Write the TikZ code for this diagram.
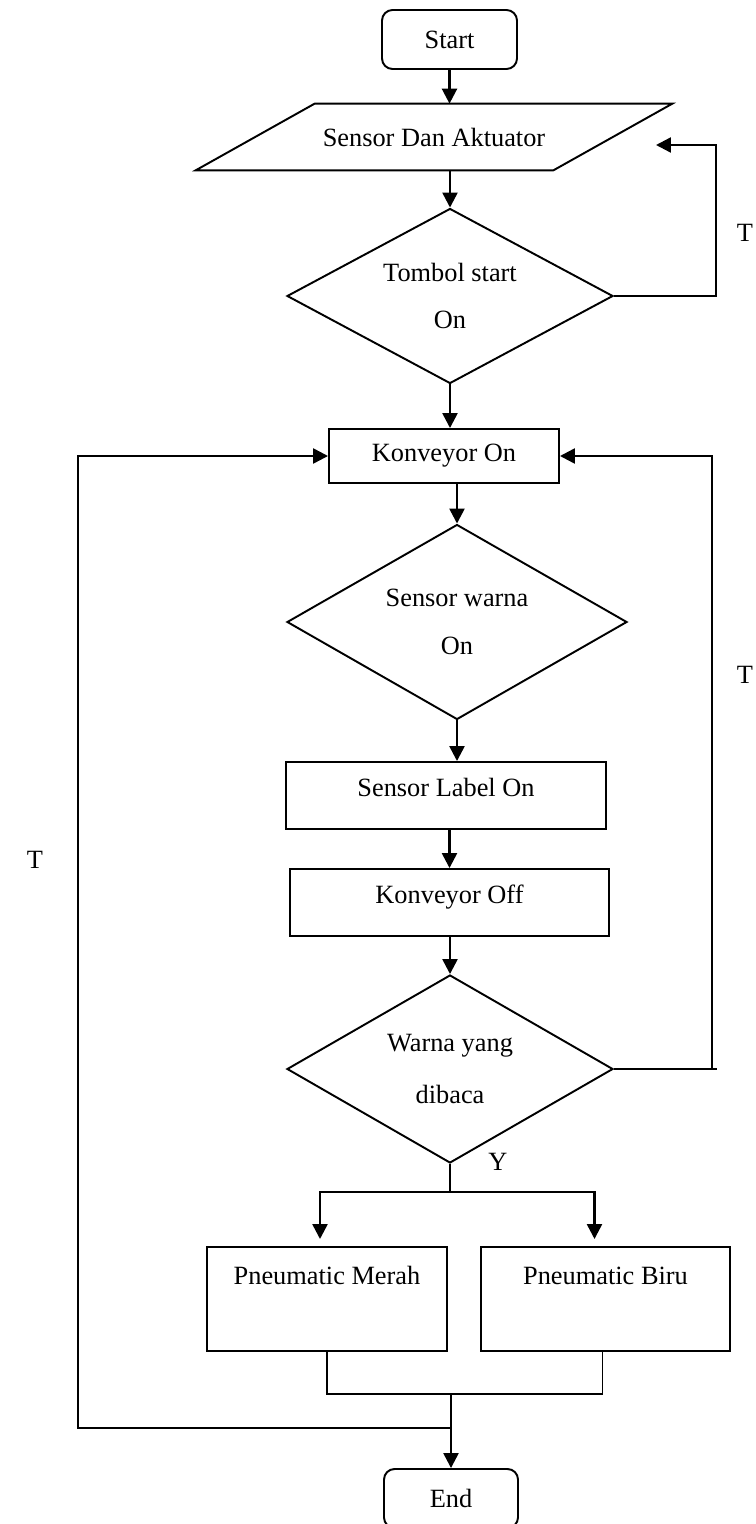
\documentclass[tikz,border=0pt]{standalone}
\usepackage{fontspec}
\setmainfont{Liberation Serif}
\usetikzlibrary{shapes.geometric,arrows.meta}

\tikzstyle{base}=[draw,line width=1.1pt,font=\fontsize{15}{18}\selectfont,inner sep=0pt]
\tikzstyle{term}=[base,rectangle,rounded corners=6pt]
\tikzstyle{proc}=[base,rectangle]
\tikzstyle{io}=[rectangle,font=\fontsize{15}{18}\selectfont,inner sep=0pt]
\tikzstyle{decision}=[base,diamond,align=center]
\tikzstyle{lbl}=[font=\fontsize{15}{18}\selectfont,inner sep=0pt]
\tikzstyle{arrow}=[line width=1.4pt,-{Triangle[length=8.5pt,width=8.5pt]}]
\tikzstyle{line}=[line width=1.1pt]
\def\dpx{0.02cm}
\def\slant{59.5}

\begin{document}
\begin{tikzpicture}[x=0.02cm,y=-0.02cm]
\useasboundingbox (0,0) rectangle (755,1524);

% main column
\node[term, minimum width=135*\dpx, minimum height=59*\dpx] (start) at (449.5,39.5) {Start};
\node[io, minimum width=357*\dpx, minimum height=66*\dpx] (sensor) at (434,137) {Sensor Dan Aktuator};
\draw[line] ([xshift=\slant*\dpx]sensor.north west) -- ([xshift=\slant*\dpx]sensor.north east)
    -- ([xshift=-\slant*\dpx]sensor.south east) -- ([xshift=-\slant*\dpx]sensor.south west) -- cycle;
\node[decision, minimum width=326*\dpx, minimum height=175*\dpx, aspect=1.86] (tombol) at (450,296) {Tombol start\\[8.6pt]On};
\node[proc, minimum width=230*\dpx, minimum height=54*\dpx] (konvon) at (444,456) {Konveyor On};
\node[decision, minimum width=340*\dpx, minimum height=195*\dpx, aspect=1.74] (swarna) at (457,622) {Sensor warna\\[9pt]On};
\node[proc, minimum width=320*\dpx, minimum height=67*\dpx, text height=10pt, text depth=8.5pt] (slabel) at (446,795.5) {Sensor Label On};
\node[proc, minimum width=319*\dpx, minimum height=67*\dpx, text height=10pt, text depth=8.5pt] (konvoff) at (449.5,902.5) {Konveyor Off};
\node[decision, minimum width=326*\dpx, minimum height=188*\dpx, aspect=1.73] (warna) at (450,1069) {Warna yang\\[12pt]dibaca};

% two outputs
\node[proc, minimum width=240*\dpx, minimum height=104*\dpx, text height=10pt, text depth=27pt] (merah) at (327,1299) {Pneumatic Merah};
\node[proc, minimum width=249*\dpx, minimum height=104*\dpx, text height=10pt, text depth=27pt] (biru) at (605.5,1299) {Pneumatic Biru};
\node[term, minimum width=134*\dpx, minimum height=59*\dpx] (end) at (451,1498.5) {End};

\coordinate (back1) at (656,145);
\coordinate (merge) at (451,1393);
\coordinate (loopin) at (451,1428);

% straight flow
\draw[arrow] (start.south) -- (start.south |- sensor.north);
\draw[arrow] (tombol.north |- sensor.south) -- (tombol.north);
\draw[arrow] (tombol.south) -- (tombol.south |- konvon.north);
\draw[arrow] (konvon.south -| swarna.north) -- (swarna.north);
\draw[arrow] (swarna.south) -- (swarna.south |- slabel.north);
\draw[arrow] (konvoff.north |- slabel.south) -- (konvoff.north);
\draw[arrow] (warna.north |- konvoff.south) -- (warna.north);

% loops back
\draw[arrow] (tombol.east) -- ++(102,0) |- (back1);
\draw[line] (warna.east) -- ++(103,0);
\draw[arrow] (warna.east) -- ++(98,0) |- (konvon.east);
\draw[arrow] (loopin) -- ++(-373,0) |- (konvon.west);

% split and merge
\draw[line] (warna.south) -- ++(0,28) coordinate (split);
\draw[arrow, shorten >=4pt] (split) -| ([xshift=-7*\dpx]merah.north);
\draw[arrow, shorten >=4pt] (split) -| ([xshift=-11*\dpx]biru.north);
\draw[line] (merah.south) -- ++(0,42) -| ([xshift=-3*\dpx]biru.south);
\draw[arrow] (merge) -- (end.north);

% branch labels
\node[lbl] (t1) at (745,233) {T};
\node[lbl] (t2) at (745,675) {T};
\node[lbl] (t3) at (35,860) {T};
\node[lbl] (y1) at (498,1162) {Y};
\end{tikzpicture}
\end{document}
